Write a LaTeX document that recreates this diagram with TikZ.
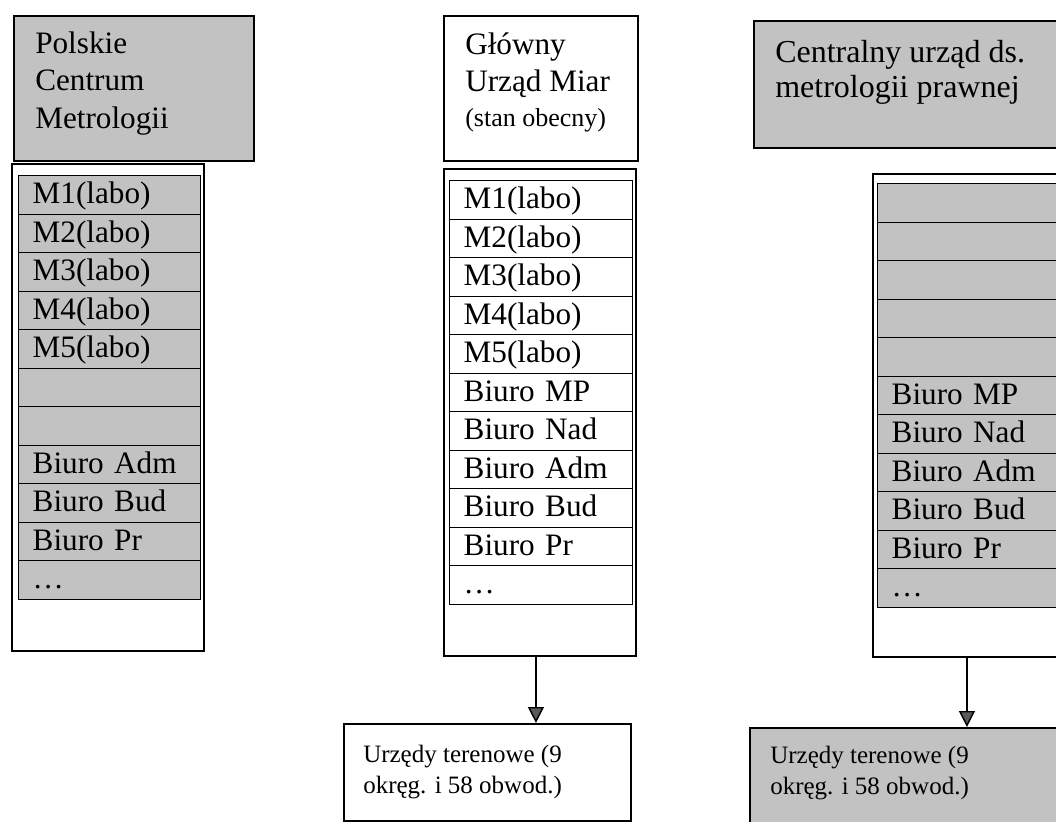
\documentclass[tikz,border=0pt]{standalone}
\usepackage{fontspec}
\setmainfont{Liberation Serif}
\usetikzlibrary{arrows.meta}
\definecolor{boxgray}{RGB}{194,194,194}
\definecolor{tipgray}{RGB}{90,90,90}
\newcommand{\tabfont}{\fontsize{23.4pt}{28pt}\selectfont}
\begin{document}
\begin{tikzpicture}[x=0.75pt,y=-0.75pt,
  frame/.style={draw, line width=1.4pt, anchor=north west, inner sep=0pt},
  grayfill/.style={fill=boxgray},
  cell/.style={draw, line width=1.1pt, anchor=north west, inner ysep=0pt, inner xsep=10.5pt,
    text height=21pt, text depth=7.875pt, align=left, font=\tabfont},
  lcell/.style={cell, fill=boxgray, text width=115.5pt},
  mcell/.style={cell, fill=white, text width=116.25pt},
  rcell/.style={cell, fill=boxgray, text width=121.5pt},
  txt/.style={anchor=north west, inner sep=0pt, align=left},
  arr/.style={line width=1.1pt, -{Triangle[length=12pt,width=12pt,fill=tipgray]}}
]
\useasboundingbox (0,0) rectangle (1056,821);
\fill[white] (0,0) rectangle (1056,821);
\clip (0,0) rectangle (1056,821);

% ---------- left column ----------
\node[frame, grayfill, minimum width=180pt, minimum height=108.75pt] (Lhead) at (13,15) {};
\node[txt, font=\fontsize{23.4pt}{28.125pt}\selectfont] (LheadT) at (35,26.75) {\strut Polskie\\Centrum\\Metrologii};
\node[frame, fill=white, minimum width=144pt, minimum height=365.25pt] (Lout) at (11,163) {};
\node[lcell] (L1)  at (18,175)   {M1(labo)};
\node[lcell] (L2)  at (18,213.5) {M2(labo)};
\node[lcell] (L3)  at (18,252)   {M3(labo)};
\node[lcell] (L4)  at (18,290.5) {M4(labo)};
\node[lcell] (L5)  at (18,329)   {M5(labo)};
\node[lcell] (L6)  at (18,367.5) {};
\node[lcell] (L7)  at (18,406)   {};
\node[lcell] (L8)  at (18,444.5) {Biuro Adm};
\node[lcell] (L9)  at (18,483)   {Biuro Bud};
\node[lcell] (L10) at (18,521.5) {Biuro Pr};
\node[lcell] (L11) at (18,560)   {…};

% ---------- middle column ----------
\node[frame, fill=white, minimum width=145.5pt, minimum height=108.75pt] (Mhead) at (443,15) {};
\node[txt, font=\fontsize{23.4pt}{27.75pt}\selectfont] (MheadT) at (465,28.75)
  {\strut Główny\\Urząd Miar\\[-1.5pt]{\fontsize{19.5pt}{24pt}\selectfont (stan obecny)}};
\node[frame, fill=white, minimum width=144pt, minimum height=365.25pt] (Mout) at (443,168) {};
\node[mcell] (M1)  at (449,180)   {M1(labo)};
\node[mcell] (M2)  at (449,218.5) {M2(labo)};
\node[mcell] (M3)  at (449,257)   {M3(labo)};
\node[mcell] (M4)  at (449,295.5) {M4(labo)};
\node[mcell] (M5)  at (449,334)   {M5(labo)};
\node[mcell] (M6)  at (449,372.5) {Biuro MP};
\node[mcell] (M7)  at (449,411)   {Biuro Nad};
\node[mcell] (M8)  at (449,449.5) {Biuro Adm};
\node[mcell] (M9)  at (449,488)   {Biuro Bud};
\node[mcell] (M10) at (449,526.5) {Biuro Pr};
\node[mcell] (M11) at (449,565)   {…};
\node[frame, fill=white, minimum width=215.25pt, minimum height=72.75pt] (Mbot) at (343,723) {};
\node[txt, font=\fontsize{18.75pt}{23.25pt}\selectfont] (MbotT) at (363,740.3)
  {\strut Urzędy terenowe (9\\okręg. i 58 obwod.)};
\coordinate (Marr) at ([xshift=-3pt]Mout.south);
\draw[arr] (Marr) -- (Marr |- Mbot.north);

% ---------- right column ----------
\node[frame, grayfill, minimum width=240pt, minimum height=95.25pt] (Rhead) at (753,20) {};
\node[txt, font=\fontsize{24pt}{26.25pt}\selectfont] (RheadT) at (775,37.5)
  {\strut Centralny urząd ds.\\metrologii prawnej};
\node[frame, fill=white, minimum width=141pt, minimum height=362.25pt] (Rout) at (872,173) {};
\node[rcell] (R1)  at (877,183)   {};
\node[rcell] (R2)  at (877,221.5) {};
\node[rcell] (R3)  at (877,260)   {};
\node[rcell] (R4)  at (877,298.5) {};
\node[rcell] (R5)  at (877,337)   {};
\node[rcell] (R6)  at (877,375.5) {Biuro MP};
\node[rcell] (R7)  at (877,414)   {Biuro Nad};
\node[rcell] (R8)  at (877,452.5) {Biuro Adm};
\node[rcell] (R9)  at (877,491)   {Biuro Bud};
\node[rcell] (R10) at (877,529.5) {Biuro Pr};
\node[rcell] (R11) at (877,568)   {…};
\node[frame, grayfill, minimum width=240pt, minimum height=82.5pt] (Rbot) at (749,727) {};
\node[txt, font=\fontsize{18.75pt}{23.25pt}\selectfont] (RbotT) at (770,741.3)
  {\strut Urzędy terenowe (9\\okręg. i 58 obwod.)};
\draw[arr] (Rout.south) -- (Rout.south |- Rbot.north);
\end{tikzpicture}
\end{document}
